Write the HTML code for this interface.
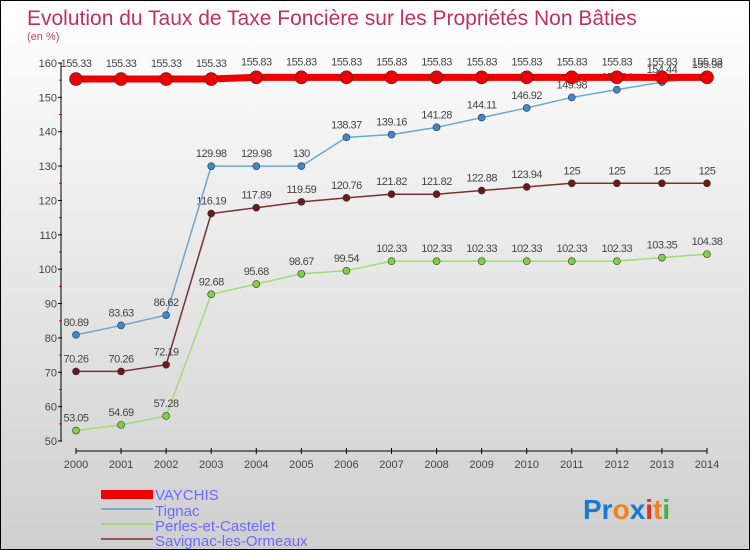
<!DOCTYPE html>
<html><head><meta charset="utf-8"><style>
body{margin:0}
#c{width:748px;height:548px;border:1px solid #000;background:linear-gradient(#fff,#cfcfcf);position:relative;font-family:"Liberation Sans",sans-serif;overflow:hidden}
svg text{font-family:"Liberation Sans",sans-serif}
</style></head><body>
<div id="c">
<svg id="s" width="748" height="548">
<text x="26" y="24" font-size="21" fill="#c03060">Evolution du Taux de Taxe Foncière sur les Propriétés Non Bâties</text>
<text x="26" y="39" font-size="11" fill="#c04070">(en %)</text>
<g id="axes"></g><g id="series"></g>
<g font-size="15" fill="#6a6aff">
<rect x="100" y="489" width="52" height="9" fill="#e00"/>
<text x="154" y="499">VAYCHIS</text>
<rect x="100" y="507" width="52" height="2" fill="#7aaad0"/>
<text x="154" y="515">Tignac</text>
<rect x="100" y="522" width="52" height="2" fill="#9ed870"/>
<text x="154" y="530">Perles-et-Castelet</text>
<rect x="100" y="537" width="52" height="2" fill="#905858"/>
<text x="154" y="545">Savignac-les-Ormeaux</text>
</g>
<text x="582" y="518" font-size="28" font-weight="bold"><tspan fill="#1a7ad0">Pr</tspan><tspan fill="#f08020">o</tspan><tspan fill="#1a7ad0">x</tspan><tspan fill="#e03020">i</tspan><tspan fill="#f08020">t</tspan><tspan fill="#40b040">i</tspan></text>
</svg></div>
<script>
const years=["2000","2001","2002","2003","2004","2005","2006","2007","2008","2009","2010","2011","2012","2013","2014"];
const yTicks=[50,60,70,80,90,100,110,120,130,140,150,160];
const vaychis=[155.33,155.33,155.33,155.33,155.83,155.83,155.83,155.83,155.83,155.83,155.83,155.83,155.83,155.83,155.83];
const tignac=[80.89,83.63,86.62,129.98,129.98,130,138.37,139.16,141.28,144.11,146.92,149.98,152.24,154.44,155.98];
const perles=[53.05,54.69,57.28,92.68,95.68,98.67,99.54,102.33,102.33,102.33,102.33,102.33,102.33,103.35,104.38];
const savignac=[70.26,70.26,72.19,116.19,117.89,119.59,120.76,121.82,121.82,122.88,123.94,125,125,125,125];
const NS="http://www.w3.org/2000/svg";
const X=i=>75+i*(631/14);
const Y=v=>440-(v-50)*(378/110);
function mk(t,a,p){const e=document.createElementNS(NS,t);for(const k in a)e.setAttribute(k,a[k]);p.appendChild(e);return e;}
const ax=document.getElementById('axes');
let l=mk('line',{x1:60,y1:Y(160),x2:60,y2:Y(50),stroke:'#000'},ax);


yTicks.forEach(v=>{
 mk('line',{x1:57,y1:Y(v),x2:61,y2:Y(v),stroke:'#000'},ax);
 if(v<160)mk('line',{x1:58,y1:Y(v+5),x2:61,y2:Y(v+5),stroke:'#e00'},ax);
 const t=mk('text',{x:56,y:Y(v)+4,'font-size':11,'text-anchor':'end',fill:'#444'},ax);t.textContent=v;
 
 
});
l=mk('line',{x1:75,y1:450,x2:706,y2:450,stroke:'#000'},ax);


years.forEach((y,i)=>{
 mk('line',{x1:X(i),y1:447,x2:X(i),y2:453,stroke:'#000'},ax);
 const t=mk('text',{x:X(i),y:467,'font-size':11,'text-anchor':'middle',fill:'#444'},ax);t.textContent=y;
 
 
});
const sg=document.getElementById('series');
function draw(name,data,color,w,r,fill){
 const g=mk('g',{},sg);
 
 
 const p=mk('polyline',{points:data.map((v,i)=>X(i)+','+Y(v)).join(' '),fill:'none',stroke:color,'stroke-width':w},g);
 
 
 data.forEach((v,i)=>{
  const c=mk('circle',{cx:X(i),cy:Y(v),r:r,fill:fill,stroke:'#333','stroke-width':0.6},g);
  
  
  const t=mk('text',{x:X(i),y:Y(v)-(name==='vaychis'?12:9),'font-size':11,'text-anchor':'middle',fill:'#444','letter-spacing':'-0.5'},g);
  t.textContent=v;
  
  
 });
}
draw('savignac',savignac,'#7a3030',1.5,3.5,'#6a1a1a');
draw('perles',perles,'#a0dc70',1.5,3.5,'#80d040');
draw('tignac',tignac,'#6aa8d8',1.5,3.5,'#3a8ad0');
draw('vaychis',vaychis,'#e00',7,6.5,'#e00');
</script>
</body></html>
